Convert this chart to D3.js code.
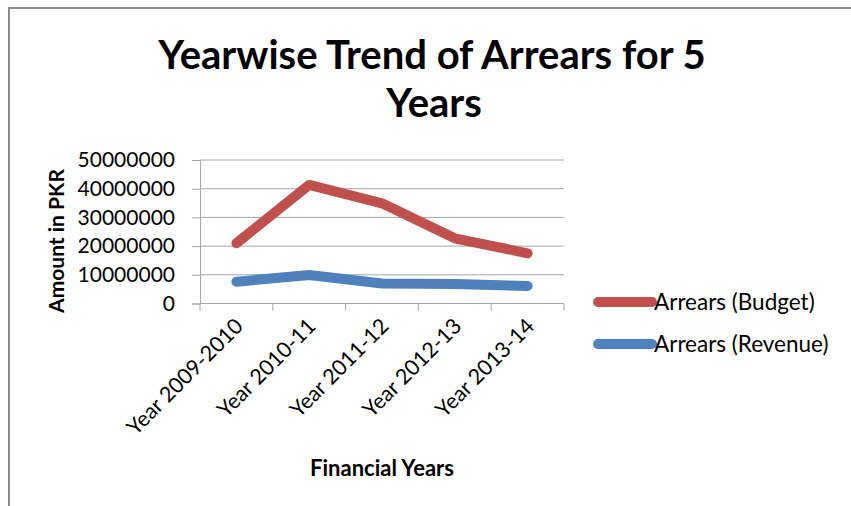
<!DOCTYPE html>
<html>
<head>
<meta charset="utf-8">
<script src="https://cdn.jsdelivr.net/npm/d3@7"></script>
<style>
  html, body { margin: 0; padding: 0; background: #fff; }
  svg { display: block; }
  text { font-family: Lato, "Open Sans", sans-serif; fill: #000; }
</style>
</head>
<body>
<svg id="chart" width="851" height="506"></svg>
<script>
// Financial years on the category axis
const years = ["Year 2009-2010", "Year 2010-11", "Year 2011-12", "Year 2012-13", "Year 2013-14"];
// Arrears in PKR
const budgetArrears  = [21000000, 41300000, 34900000, 22700000, 17500000];
const revenueArrears = [7600000, 9900000, 7000000, 6800000, 6100000];
const yTicks = [0, 10000000, 20000000, 30000000, 40000000, 50000000];

const seriesList = [
  { name: "Arrears (Budget)", values: budgetArrears, color: "#C0504D" },
  { name: "Arrears (Revenue)", values: revenueArrears, color: "#4F81BD" }
];

const svg = d3.select("#chart");

// outer frame
svg.append("path")
  .attr("d", "M9,506 V8 H851")
  .attr("fill", "none")
  .attr("stroke", "#8c8c8c")
  .attr("stroke-width", 2);

const plot = { left: 200, right: 564, top: 160, bottom: 303.5 };

const x = d3.scaleBand().domain(years).range([plot.left, plot.right]);
const y = d3.scaleLinear().domain([0, 50000000]).range([plot.bottom, plot.top]);

// horizontal gridlines
svg.append("g")
  .selectAll("line")
  .data(yTicks.slice(1))
  .join("line")
  .attr("x1", plot.left).attr("x2", plot.right)
  .attr("y1", d => y(d)).attr("y2", d => y(d))
  .attr("stroke", "#a6a6a6").attr("stroke-width", 1);

// y axis
const yAxis = svg.append("g")
  .attr("transform", `translate(${plot.left},0)`)
  .call(d3.axisLeft(y).tickValues(yTicks).tickSize(8).tickPadding(17).tickFormat(d3.format("d")));
yAxis.select(".domain").attr("stroke", "#a6a6a6");
yAxis.selectAll(".tick line").attr("stroke", "#a6a6a6");
yAxis.selectAll(".tick text")
  .style("font-family", "Lato, sans-serif")
  .style("font-size", "21px")
  .attr("fill", "#000");

// x axis with tick marks on category boundaries
const xAxis = svg.append("g")
  .attr("transform", `translate(0,${plot.bottom})`);
xAxis.append("line")
  .attr("x1", plot.left).attr("x2", plot.right)
  .attr("stroke", "#a6a6a6");
const bounds = years.map(d => x(d)).concat([plot.right]);
xAxis.selectAll("line.tk")
  .data(bounds)
  .join("line")
  .attr("class", "tk")
  .attr("x1", d => d).attr("x2", d => d)
  .attr("y1", 0).attr("y2", 7)
  .attr("stroke", "#a6a6a6");
xAxis.selectAll("text.cat")
  .data(years)
  .join("text")
  .attr("class", "cat")
  .attr("text-anchor", "end")
  .attr("transform", d => `translate(${x(d) + x.bandwidth() / 2 + 8},${24}) rotate(-45)`)
  .style("font-size", "21.5px")
  .text(d => d);

// series lines
const line = d3.line()
  .x((d, i) => x(years[i]) + x.bandwidth() / 2)
  .y(d => y(d));

svg.append("g")
  .selectAll("path")
  .data(seriesList)
  .join("path")
  .attr("d", s => line(s.values))
  .attr("fill", "none")
  .attr("stroke", s => s.color)
  .attr("stroke-width", 10)
  .attr("stroke-linecap", "round")
  .attr("stroke-linejoin", "round");

// titles
const title = svg.append("text")
  .attr("text-anchor", "middle")
  .style("font-size", "40px")
  .style("font-weight", "bold");
title.append("tspan").attr("x", 432).attr("y", 69).text("Yearwise Trend of Arrears for 5");
title.append("tspan").attr("x", 434).attr("y", 117).text("Years");

svg.append("text")
  .attr("text-anchor", "middle")
  .attr("transform", "translate(64,241) rotate(-90)")
  .style("font-size", "21px")
  .style("font-weight", "bold")
  .text("Amount in PKR");

svg.append("text")
  .attr("x", 382).attr("y", 476)
  .attr("text-anchor", "middle")
  .style("font-size", "22px")
  .style("font-weight", "bold")
  .text("Financial Years");

// legend
const legend = svg.append("g")
  .selectAll("g")
  .data(seriesList)
  .join("g")
  .attr("transform", (d, i) => `translate(598,${302 + i * 42})`);
legend.append("line")
  .attr("x1", 0).attr("x2", 54)
  .attr("stroke", d => d.color)
  .attr("stroke-width", 10)
  .attr("stroke-linecap", "round");
legend.append("text")
  .attr("x", 56).attr("y", 8)
  .style("font-size", "22.5px")
  .text(d => d.name);
</script>
</body>
</html>
